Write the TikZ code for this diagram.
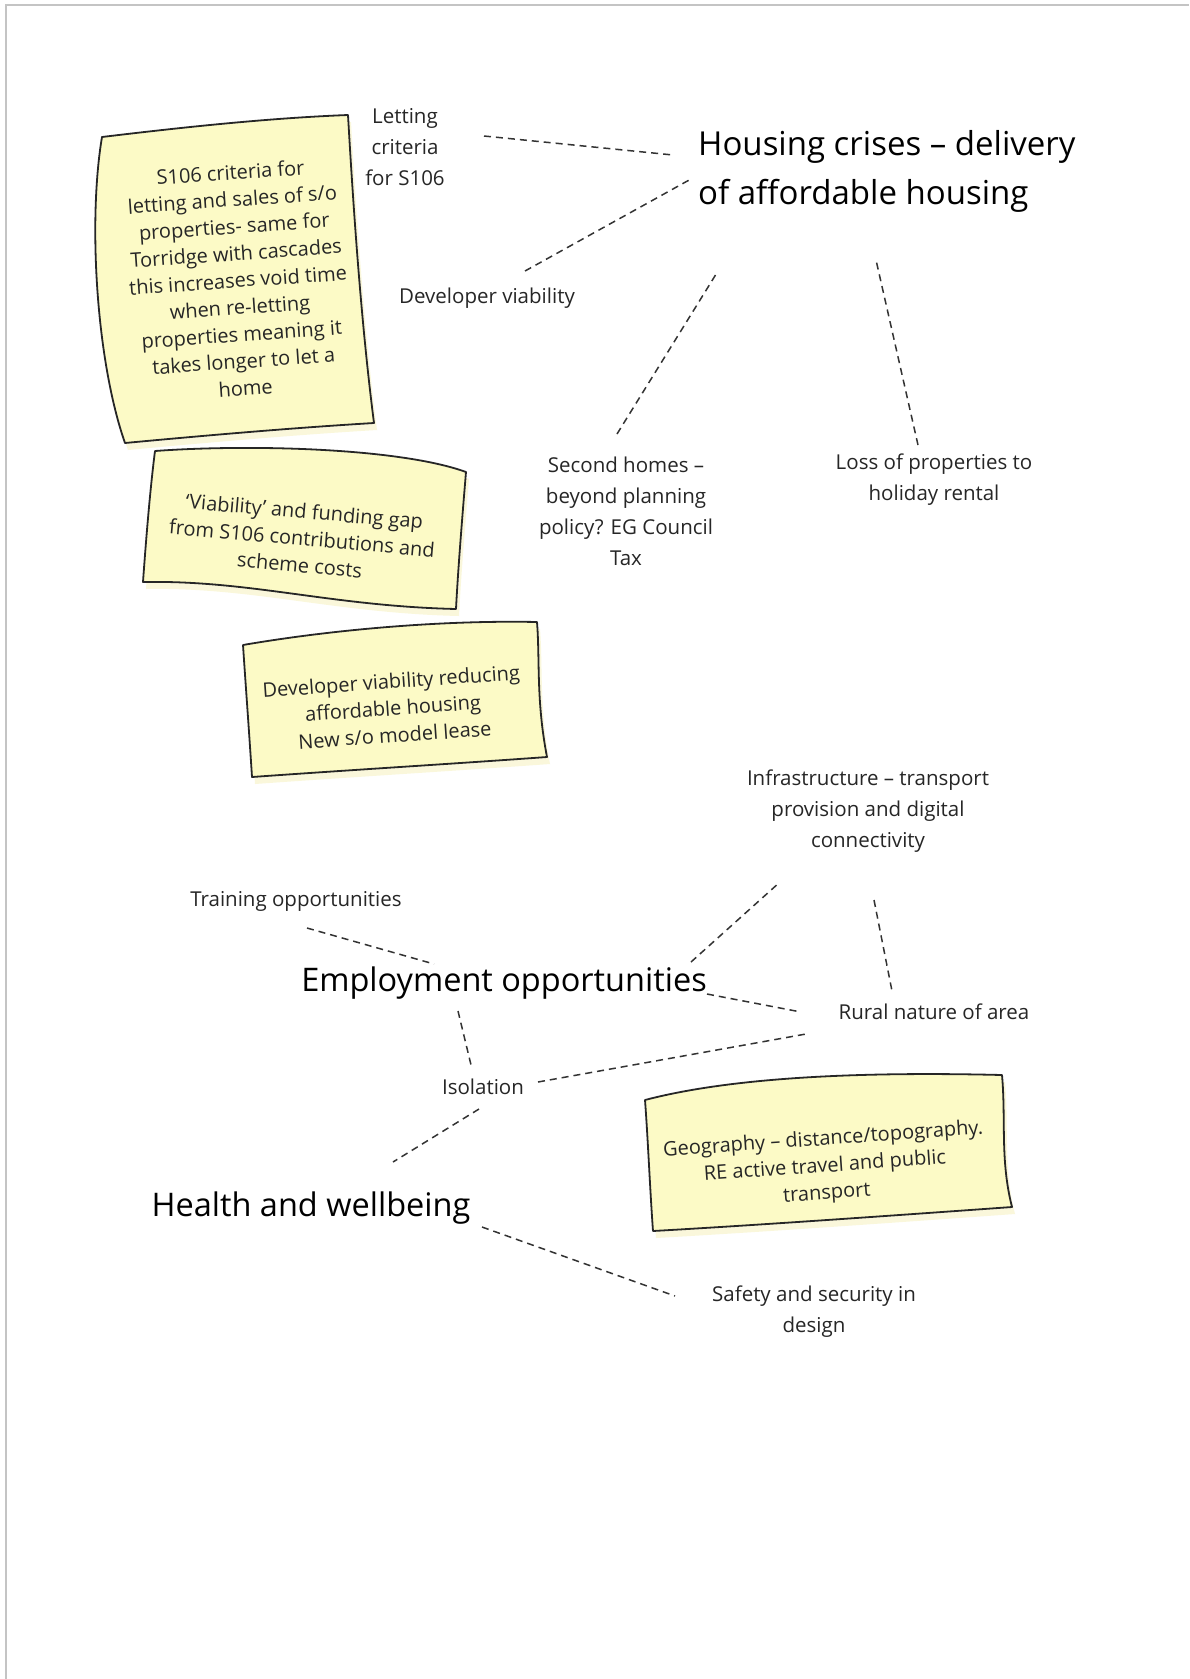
\documentclass[tikz,border=0pt]{standalone}
\usepackage{fontspec}
\setmainfont{Open Sans}
\usetikzlibrary{shadows}
\definecolor{notefill}{HTML}{FCFAC6}
\definecolor{shadowc}{HTML}{F4EFB0}
\definecolor{pageedge}{HTML}{C4C4C4}
\tikzset{
  lbl/.style={inner sep=0pt, align=center, text=black!85, font=\fontsize{20.5}{31}\selectfont},
  big/.style={inner sep=0pt, text=black, font=\fontsize{32.5}{49}\selectfont},
  notetext/.style={inner sep=0pt, align=center, text=black!85, font=\fontsize{20}{27}\selectfont},
  note/.style={draw=black!85, line width=1.8pt, fill=notefill, line join=round,
    drop shadow={shadow xshift=3pt, shadow yshift=-7pt, fill=shadowc, opacity=0.45}},
  conn/.style={draw=black!80, line width=1.5pt, dash pattern=on 7pt off 5pt},
}
\begin{document}
\begin{tikzpicture}[x=1pt,y=-1pt]
\useasboundingbox (0,0) rectangle (1189,1679);
\fill[white] (0,0) rectangle (1189,1679);
\draw[pageedge, line width=2pt] (6,1679) -- (6,5) -- (1189,5);

% sticky notes
\path[note] (102,137) .. controls (185,127) and (270,118) .. (348,115)
  .. controls (354,220) and (362,330) .. (374,423)
  .. controls (290,428) and (200,436) .. (125,443)
  .. controls (96,360) and (88,220) .. cycle;
\path[note] (155,451) .. controls (250,444) and (400,448) .. (466,472)
  .. controls (462,520) and (458,570) .. (456,609)
  .. controls (330,606) and (250,580) .. (143,582)
  .. controls (146,540) and (150,490) .. cycle;
\path[note] (243,645) .. controls (330,630) and (440,620) .. (537,622)
  .. controls (540,660) and (536,700) .. (547,757)
  .. controls (450,764) and (350,770) .. (252,777)
  .. controls (249,730) and (246,690) .. cycle;
\path[note] (645,1100) .. controls (740,1075) and (880,1072) .. (1002,1075)
  .. controls (1006,1120) and (1000,1160) .. (1012,1207)
  .. controls (900,1215) and (760,1225) .. (653,1231)
  .. controls (650,1190) and (648,1140) .. cycle;

\node[notetext, rotate=4] (n1) at (238,280) {S106 criteria for\\letting and sales of s/o\\properties- same for\\Torridge with cascades\\this increases void time\\when re-letting\\properties meaning it\\takes longer to let a\\home};
\node[notetext, rotate=-5] (n2) at (302,538) {‘Viability’ and funding gap\\from S106 contributions and\\scheme costs};
\node[notetext, rotate=4] (n3) at (393,708) {Developer viability reducing\\affordable housing\\New s/o model lease};
\node[notetext, rotate=4] (n4) at (825,1167) {Geography – distance/topography.\\RE active travel and public\\transport};

% main topics
\node[big, align=left, anchor=west, font=\fontsize{33}{49}\selectfont] (housing) at (698,171) {Housing crises – delivery\\of affordable housing};
\node[big] (employ) at (504,983) {Employment opportunities};
\node[big] (health) at (311,1208) {Health and wellbeing};

% labels
\node[lbl] (letting) at (405,147) {Letting\\criteria\\for S106};
\node[lbl] (devv) at (487,298) {Developer viability};
\node[lbl] (second) at (626,511) {Second homes –\\beyond planning\\policy? EG Council\\Tax};
\node[lbl] (loss) at (934,480) {Loss of properties to\\holiday rental};
\node[lbl] (infra) at (868,811) {Infrastructure – transport\\provision and digital\\connectivity};
\node[lbl] (training) at (296,901) {Training opportunities};
\node[lbl] (rural) at (934,1012) {Rural nature of area};
\node[lbl] (isol) at (483,1087) {Isolation};
\node[lbl] (safety) at (814,1312) {Safety and security in\\design};

% connectors
\draw[conn] ([shift={(79,-11)}]letting.center) -- ([shift={(-25,-16)}]housing.west);
\draw[conn] ([shift={(38,-27)}]devv.center) -- ([shift={(-7,8)}]housing.west);
\draw[conn] ([shift={(-9,-77)}]second.center) -- ([shift={(20,100)}]housing.west);
\draw[conn] ([shift={(-16,-35)}]loss.center) -- ([shift={(178,89)}]housing.west);
\draw[conn] ([shift={(11,27)}]training.center) -- ([shift={(-70,-19)}]employ.center);
\draw[conn] ([shift={(187,-21)}]employ.center) -- ([shift={(-88,71)}]infra.center);
\draw[conn] ([shift={(6,89)}]infra.center) -- ([shift={(-42,-21)}]rural.center);
\draw[conn] ([shift={(203,11)}]employ.center) -- ([shift={(-133,0)}]rural.center);
\draw[conn] ([shift={(-46,28)}]employ.center) -- ([shift={(-11,-18)}]isol.center);
\draw[conn] ([shift={(55,-5)}]isol.center) -- ([shift={(-128,22)}]rural.center);
\draw[conn] ([shift={(-4,22)}]isol.center) -- ([shift={(82,-46)}]health.center);
\draw[conn] ([shift={(171,19)}]health.center) -- ([shift={(-139,-16)}]safety.center);
\end{tikzpicture}
\end{document}
